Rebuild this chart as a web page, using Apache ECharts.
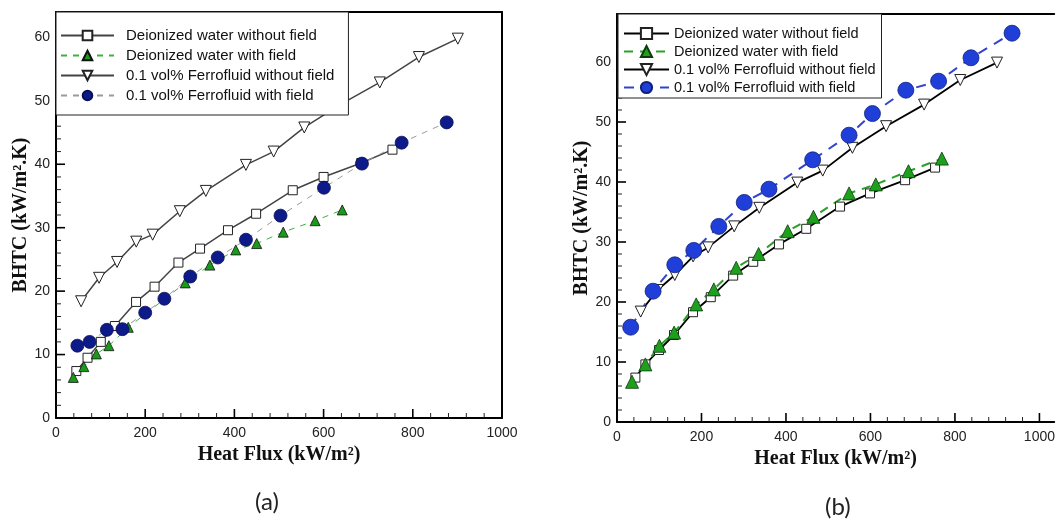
<!DOCTYPE html>
<html>
<head>
<meta charset="utf-8">
<script src="https://cdn.jsdelivr.net/npm/echarts@6/dist/echarts.min.js"></script>
<style>
html,body{margin:0;padding:0;background:#fff;}
#c{width:1058px;height:520px;}
</style>
</head>
<body>
<div id="c"></div>
<script>
// ---- data (x: heat flux kW/m2, y: BHTC kW/m2.K) ----
const seriesNames = [
  'Deionized water without field',
  'Deionized water with field',
  '0.1 vol% Ferrofluid without field',
  '0.1 vol% Ferrofluid with field'
];
const xTicks = [0, 200, 400, 600, 800, 1000];
const yTicks = [0, 10, 20, 30, 40, 50, 60];
const panelLabels = ['(a)', '(b)'];

// panel (a)
const dwNoFieldA = [[45.6,7.4],[70.7,9.5],[100.4,12.0],[132,14.5],[179.5,18.3],[221,20.7],[274.5,24.5],[323,26.7],[385.6,29.6],[448.7,32.2],[530.8,35.9],[600,38.0],[684.4,40.2],[754.4,42.3]];
const dwFieldA = [[38.8,6.4],[62.4,8.1],[90.5,10.1],[118.6,11.4],[162,14.3],[289.7,21.3],[345,24.1],[403,26.5],[450,27.5],[509.5,29.3],[581,31.1],[641.8,32.8]];
const ffNoFieldA = [[56.3,18.4],[96.6,22.1],[136.9,24.6],[180,27.8],[216.7,28.9],[277.6,32.6],[336,35.8],[425.9,39.9],[488,42.0],[556.7,45.8],[637,49.4],[726,52.9],[813.7,56.9],[901,59.8]];
const ffFieldA = [[47.9,11.4],[75.3,12.0],[114,13.9],[149,14.0],[200,16.6],[243,18.8],[301,22.3],[362.7,25.3],[425.9,28.1],[503.4,31.9],[600.8,36.3],[686,40.1],[775,43.4],[876,46.6]];

// panel (b)
const dwNoFieldB = [[43.5,7.4],[67.2,9.6],[99.6,12.0],[135,14.5],[180,18.3],[222,20.8],[275,24.4],[322.5,26.7],[383.4,29.6],[448,32.2],[528,35.9],[599,38.1],[682,40.3],[753,42.4]];
const dwFieldB = [[35.6,6.7],[67.2,9.6],[100.4,12.7],[135.2,14.9],[187.4,19.6],[229.2,22.1],[282.2,25.7],[335.2,28.0],[404,31.8],[465,34.2],[549.4,38.1],[612.6,39.6],[690,41.8],[769,43.9]];
const ffNoFieldB = [[56.1,18.4],[96,22.0],[136.8,24.5],[180.2,27.6],[215.8,29.1],[277.5,32.6],[336.8,35.7],[426.9,39.9],[487,41.9],[557.3,45.7],[637,49.3],[727,52.9],[812.6,57.0],[899.6,59.9]];
const ffFieldB = [[32.4,15.8],[85.4,21.8],[136.8,26.2],[181.8,28.6],[241,32.6],[301.2,36.6],[359.7,38.8],[463.2,43.7],[549.4,47.8],[604.7,51.4],[683.8,55.3],[761.3,56.8],[838,60.7],[935.2,64.8]];

const xTitle = 'Heat Flux (kW/m²)';
const yTitle = 'BHTC (kW/m².K)';

// ---- chart ----
const chart = echarts.init(document.getElementById('c'), null, {renderer: 'canvas'});
const sans = 'Liberation Sans';
const serif = 'Liberation Serif';
const namesB = seriesNames.map(n => n + ' ');
const xStep = xTicks[1] - xTicks[0], yStep = yTicks[1] - yTicks[0];
const xMinorStep = xStep / 5, yMinorStep = yStep / 5;

function xAxis(gridIndex, max, gap) {
  return {
    type: 'value', gridIndex: gridIndex, position: 'bottom', min: xTicks[0], max: max, interval: xStep,
    name: xTitle, nameLocation: 'middle', nameGap: gap, z: 10,
    nameTextStyle: {fontFamily: serif, fontWeight: 'bold', fontSize: 20, color: '#111'},
    axisLine: {show: true, onZero: false, lineStyle: {color: '#000', width: 2}},
    axisTick: {show: false}, minorTick: {show: false},
    axisLabel: {fontFamily: sans, fontSize: 14, color: '#222', margin: 8, showMaxLabel: max === 1000,
      formatter: v => (xTicks.indexOf(v) >= 0 ? String(v) : '')},
    splitLine: {show: false}
  };
}
function yAxis(gridIndex, max, gap) {
  return {
    type: 'value', gridIndex: gridIndex, position: 'left', min: yTicks[0], max: max, interval: yStep,
    name: yTitle, nameLocation: 'middle', nameGap: gap, nameRotate: 90, z: 10,
    nameTextStyle: {fontFamily: serif, fontWeight: 'bold', fontSize: 20, color: '#111'},
    axisLine: {show: true, onZero: false, lineStyle: {color: '#000', width: 2}},
    axisTick: {show: false}, minorTick: {show: false},
    axisLabel: {fontFamily: sans, fontSize: 14, color: '#222', margin: 6, showMaxLabel: false,
      formatter: v => (yTicks.indexOf(v) >= 0 ? String(v) : '')},
    splitLine: {show: false}
  };
}
function frameAxis(gridIndex, position, max) {
  return {
    type: 'value', gridIndex: gridIndex, position: position, min: 0, max: max, z: 10,
    axisLine: {show: true, onZero: false, lineStyle: {color: '#000', width: 2}},
    axisTick: {show: false}, axisLabel: {show: false}, splitLine: {show: false}
  };
}

// tick marks (major + minor) drawn inside the plot through the axes' own scales
function tickData(xMax, yMax) {
  const d = [];
  for (let i = 0; i * xMinorStep <= xMax + 1e-9; i++) d.push([i * xMinorStep, 0, i % 5 === 0 ? 1 : 0, 0]);
  for (let j = 0; j * yMinorStep <= yMax + 1e-9; j++) d.push([0, j * yMinorStep, j % 5 === 0 ? 1 : 0, 1]);
  return d;
}
function tickSeries(idx, xMax, yMax) {
  return {
    type: 'custom', coordinateSystem: 'cartesian2d', xAxisIndex: idx, yAxisIndex: idx,
    data: tickData(xMax, yMax), clip: false, silent: true, z: 11, animation: false,
    renderItem: function (params, api) {
      const p = api.coord([api.value(0), api.value(1)]);
      const major = api.value(2) === 1;
      const len = major ? 9 : 5;
      const vertical = api.value(3) === 0;
      return {
        type: 'line',
        shape: vertical ? {x1: p[0], y1: p[1], x2: p[0], y2: p[1] - len} : {x1: p[0], y1: p[1], x2: p[0] + len, y2: p[1]},
        style: {stroke: major ? '#000' : '#222', lineWidth: major ? 1.6 : 1}
      };
    }
  };
}

function line(name, data, idx, opts) {
  return Object.assign({
    type: 'line', name: name, data: data, xAxisIndex: idx, yAxisIndex: idx,
    showSymbol: true, animation: false, smooth: false, z: 2
  }, opts);
}

const series = [
  // (a)
  line(seriesNames[0], dwNoFieldA, 0, {symbol: 'rect', symbolSize: 9,
    lineStyle: {color: '#444', width: 1.5, type: 'solid'},
    itemStyle: {color: '#fff', borderColor: '#222', borderWidth: 1}}),
  line(seriesNames[1], dwFieldA, 0, {symbol: 'triangle', symbolSize: 10,
    lineStyle: {color: '#3cb43c', width: 1, type: [6, 6]},
    itemStyle: {color: '#1a9a1a', borderColor: '#111', borderWidth: 0.8}}),
  line(seriesNames[2], ffNoFieldA, 0, {symbol: 'triangle', symbolRotate: 180, symbolSize: 11,
    lineStyle: {color: '#444', width: 1.5, type: 'solid'},
    itemStyle: {color: '#fff', borderColor: '#222', borderWidth: 1}}),
  line(seriesNames[3], ffFieldA, 0, {symbol: 'circle', symbolSize: 13,
    lineStyle: {color: '#9a9a9a', width: 1, type: [6, 6]},
    itemStyle: {color: '#0d1a8a', borderColor: '#0a0f50', borderWidth: 0.8}}),
  // (b)
  line(namesB[0], dwNoFieldB, 1, {symbol: 'rect', symbolSize: 9,
    lineStyle: {color: '#000', width: 1.8, type: 'solid'},
    itemStyle: {color: '#fff', borderColor: '#222', borderWidth: 1}}),
  line(namesB[1], dwFieldB, 1, {symbol: 'triangle', symbolSize: 13,
    lineStyle: {color: '#2aa02a', width: 2, type: [9, 7]},
    itemStyle: {color: '#1ea01e', borderColor: '#0b3a0b', borderWidth: 0.8}}),
  line(namesB[2], ffNoFieldB, 1, {symbol: 'triangle', symbolRotate: 180, symbolSize: 11,
    lineStyle: {color: '#000', width: 1.8, type: 'solid'},
    itemStyle: {color: '#fff', borderColor: '#222', borderWidth: 1}}),
  line(namesB[3], ffFieldB, 1, {symbol: 'circle', symbolSize: 16,
    lineStyle: {color: '#3344cc', width: 2, type: [10, 8]},
    itemStyle: {color: '#1f3fd8', borderColor: '#10207a', borderWidth: 0.8}}),
  tickSeries(0, 1000, 64),
  tickSeries(1, 1035, 68)
];

const option = {
  backgroundColor: '#fff',
  animation: false,
  grid: [
    {left: 56, top: 12, width: 446, height: 406, show: false},
    {left: 617, top: 14, right: 0, height: 408, show: false}
  ],
  xAxis: [xAxis(0, 1000, 27), xAxis(1, 1035, 25), frameAxis(0, 'top', 1000), frameAxis(1, 'top', 1035)],
  yAxis: [yAxis(0, 64, 22), yAxis(1, 68, 20), frameAxis(0, 'right', 64)],
  legend: [
    {data: seriesNames, orient: 'vertical', left: 56, top: 12, itemWidth: 53, itemHeight: 12, itemGap: 5,
      padding: [16, 14, 12, 4], backgroundColor: '#fff', borderColor: '#222', borderWidth: 1,
      selectedMode: false, z: 20,
      textStyle: {fontFamily: sans, fontSize: 15, lineHeight: 12, color: '#111', padding: [0, 0, 0, 7]}},
    {data: namesB, orient: 'vertical', left: 618, top: 14, itemWidth: 45, itemHeight: 14, itemGap: 3,
      padding: [12, 2, 3, 5], backgroundColor: '#fff', borderColor: '#222', borderWidth: 1,
      selectedMode: false, z: 20,
      textStyle: {fontFamily: sans, fontSize: 14.5, lineHeight: 14, color: '#111'}}
  ],
  graphic: [
    {type: 'text', left: 255, top: 490, style: {text: panelLabels[0], font: '24px Lato', fill: '#222'}},
    {type: 'text', left: 825, top: 495, style: {text: panelLabels[1], font: '24px Lato', fill: '#222'}}
  ],
  series: series
};
chart.setOption(option);
</script>
</body>
</html>
